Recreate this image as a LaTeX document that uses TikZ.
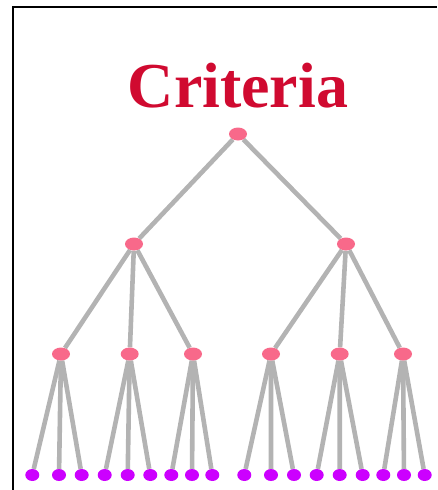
\documentclass[tikz,border=0pt]{standalone}
\usepackage{fontspec}
\setmainfont{Liberation Serif}
\usetikzlibrary{shapes.geometric,backgrounds}
\definecolor{critred}{HTML}{D00A30}
\definecolor{critpink}{HTML}{F8698A}
\definecolor{critleaf}{HTML}{CC00FF}
\definecolor{critgray}{HTML}{B3B3B3}
\tikzset{
  inner/.style={ellipse,fill=critpink,inner sep=0pt,minimum width=18pt,minimum height=13pt},
  leaf/.style={ellipse,fill=critleaf,inner sep=0pt,minimum width=14pt,minimum height=12pt},
  link/.style={draw=critgray,line width=4.6pt}
}
\begin{document}
\begin{tikzpicture}[x=1pt,y=-1pt]
    \useasboundingbox (0,0) rectangle (437,490);
    \draw[line width=2pt] (13,490) -- (13,7) -- (437,7);
    \node[text=critred,font=\fontsize{64}{64}\selectfont\bfseries,anchor=base] (title) at (238,107) {Criteria};
    \node[inner] (root) at (238,134) {};
    \node[inner] (a) at (134,244) {};
    \node[inner] (b) at (346,244) {};
    \foreach \n/\x in {a1/61,a2/129.7,a3/193,b1/271,b2/339.7,b3/403}
      \node[inner] (\n) at (\x,354) {};
    \foreach \n/\p/\q/\r in {a1/32.3/59/81.7,a2/104.7/127.7/150.3,a3/171.3/192/212.3,
        b1/244.3/271/294,b2/316.7/339.7/362.7,b3/383.3/404/424.7}
      \foreach \x [count=\i] in {\p,\q,\r}
        \node[leaf] (\n-\i) at (\x,475) {};
    \begin{scope}[on background layer]
    \draw[link] (root) -- (a) (root) -- (b);
    \foreach \n in {1,2,3} {
      \draw[link] (a) -- (a\n) (b) -- (b\n);
      \foreach \i in {1,2,3}
        \draw[link] (a\n) -- (a\n-\i) (b\n) -- (b\n-\i);
    }
    \end{scope}
\end{tikzpicture}
\end{document}
